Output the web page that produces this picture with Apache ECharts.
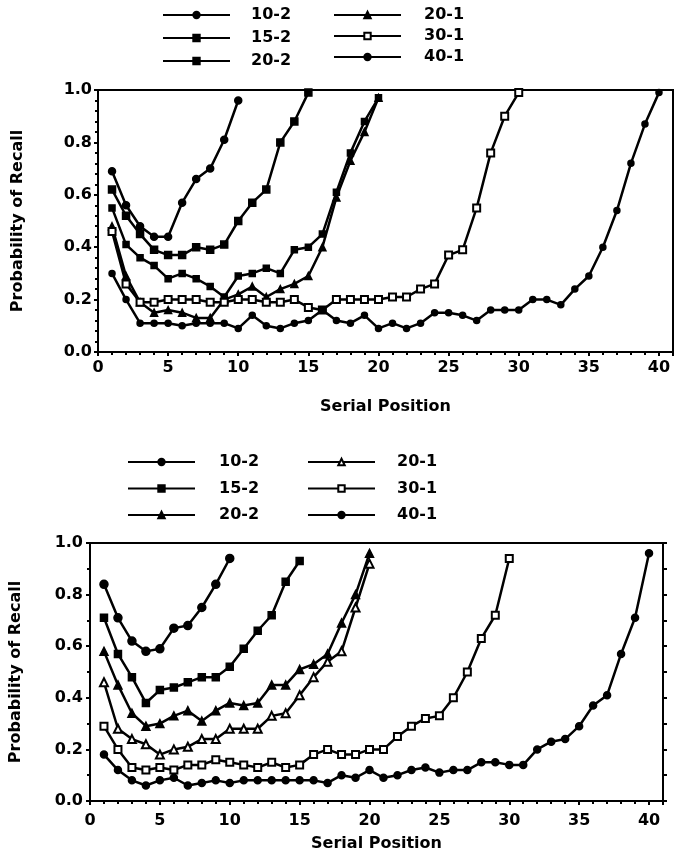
<!DOCTYPE html>
<html>
<head>
<meta charset="utf-8">
<script src="https://cdn.jsdelivr.net/npm/echarts@6/dist/echarts.min.js"></script>
<style>
    html, body { margin: 0; padding: 0; background: #fff; }
    .chart1 { position: absolute; left: 0; top: 0; width: 675px; height: 430px; }
    .chart2 { position: absolute; left: 0; top: 430px; width: 675px; height: 432px; }
</style>
</head>
<body>
<div class="chart1"></div>
<div class="chart2"></div>
<script>
// 系列名称
var names = ['10-2', '15-2', '20-2', '20-1', '30-1', '40-1'];
var yTicks = [0, 0.2, 0.4, 0.6, 0.8, 1.0];

// 上图数据
var top_10_2 = [0.69, 0.56, 0.48, 0.44, 0.44, 0.57, 0.66, 0.70, 0.81, 0.96];
var top_15_2 = [0.62, 0.52, 0.45, 0.39, 0.37, 0.37, 0.40, 0.39, 0.41, 0.50, 0.57, 0.62, 0.80, 0.88, 0.99];
var top_20_2 = [0.55, 0.41, 0.36, 0.33, 0.28, 0.30, 0.28, 0.25, 0.21, 0.29, 0.30, 0.32, 0.30, 0.39, 0.40,
    0.45, 0.61, 0.76, 0.88, 0.97];
var top_20_1 = [0.48, 0.29, 0.19, 0.15, 0.16, 0.15, 0.13, 0.13, 0.20, 0.22, 0.25, 0.21, 0.24, 0.26, 0.29,
    0.40, 0.59, 0.73, 0.84, 0.97];
var top_30_1 = [0.46, 0.26, 0.19, 0.19, 0.20, 0.20, 0.20, 0.19, 0.19, 0.20, 0.20, 0.19, 0.19, 0.20, 0.17,
    0.16, 0.20, 0.20, 0.20, 0.20, 0.21, 0.21, 0.24, 0.26, 0.37, 0.39, 0.55, 0.76, 0.90, 0.99];
var top_40_1 = [0.30, 0.20, 0.11, 0.11, 0.11, 0.10, 0.11, 0.11, 0.11, 0.09, 0.14, 0.10, 0.09, 0.11, 0.12,
    0.16, 0.12, 0.11, 0.14, 0.09, 0.11, 0.09, 0.11, 0.15, 0.15, 0.14, 0.12, 0.16, 0.16, 0.16,
    0.20, 0.20, 0.18, 0.24, 0.29, 0.40, 0.54, 0.72, 0.87, 0.99];

// 下图数据
var bot_10_2 = [0.84, 0.71, 0.62, 0.58, 0.59, 0.67, 0.68, 0.75, 0.84, 0.94];
var bot_15_2 = [0.71, 0.57, 0.48, 0.38, 0.43, 0.44, 0.46, 0.48, 0.48, 0.52, 0.59, 0.66, 0.72, 0.85, 0.93];
var bot_20_2 = [0.58, 0.45, 0.34, 0.29, 0.30, 0.33, 0.35, 0.31, 0.35, 0.38, 0.37, 0.38, 0.45, 0.45, 0.51,
    0.53, 0.57, 0.69, 0.80, 0.96];
var bot_20_1 = [0.46, 0.28, 0.24, 0.22, 0.18, 0.20, 0.21, 0.24, 0.24, 0.28, 0.28, 0.28, 0.33, 0.34, 0.41,
    0.48, 0.54, 0.58, 0.75, 0.92];
var bot_30_1 = [0.29, 0.20, 0.13, 0.12, 0.13, 0.12, 0.14, 0.14, 0.16, 0.15, 0.14, 0.13, 0.15, 0.13, 0.14,
    0.18, 0.20, 0.18, 0.18, 0.20, 0.20, 0.25, 0.29, 0.32, 0.33, 0.40, 0.50, 0.63, 0.72, 0.94];
var bot_40_1 = [0.18, 0.12, 0.08, 0.06, 0.08, 0.09, 0.06, 0.07, 0.08, 0.07, 0.08, 0.08, 0.08, 0.08, 0.08,
    0.08, 0.07, 0.10, 0.09, 0.12, 0.09, 0.10, 0.12, 0.13, 0.11, 0.12, 0.12, 0.15, 0.15, 0.14,
    0.14, 0.20, 0.23, 0.24, 0.29, 0.37, 0.41, 0.57, 0.71, 0.96];

var font = 'DejaVu Sans';

// 序号从1开始
function pairs(arr) {
    return arr.map(function (v, i) { return [i + 1, v]; });
}

function line(name, arr, symbol, size) {
    return {
        name: name,
        type: 'line',
        data: pairs(arr),
        symbol: symbol,
        symbolSize: size,
        showSymbol: true,
        lineStyle: { color: '#000', width: 2.5 },
        itemStyle: { color: '#000', borderColor: '#000', borderWidth: 1.5 },
        emphasis: { disabled: true },
        z: 3
    };
}

function legend(data, left, top, gap, pad) {
    return {
        data: data,
        orient: 'vertical',
        left: left,
        top: top,
        itemWidth: 67,
        itemHeight: 8,
        itemGap: gap,
        selectedMode: false,
        textStyle: {
            fontFamily: font, fontWeight: 'bold', fontSize: 16, color: '#000',
            lineHeight: 14, padding: [0, 0, 0, pad]
        }
    };
}

function xAxis(nameGap, labelMargin) {
    return {
        type: 'value',
        min: 0,
        max: 41,
        interval: 5,
        name: 'Serial Position',
        nameLocation: 'middle',
        nameGap: nameGap,
        nameTextStyle: { fontFamily: font, fontWeight: 'bold', fontSize: 16, color: '#000' },
        axisLine: { lineStyle: { color: '#000', width: 2 } },
        axisTick: { length: 4, lineStyle: { color: '#000', width: 2 } },
        minorTick: { show: true, splitNumber: 5, length: 3, lineStyle: { color: '#000', width: 2 } },
        axisLabel: {
            showMaxLabel: false, margin: labelMargin,
            fontFamily: font, fontWeight: 'bold', fontSize: 16, color: '#000'
        },
        splitLine: { show: false },
        minorSplitLine: { show: false }
    };
}

function yAxis(nameGap, labelMargin, minorSplit) {
    return {
        type: 'value',
        min: yTicks[0],
        max: yTicks[yTicks.length - 1],
        interval: 0.2,
        name: 'Probability of Recall',
        nameLocation: 'middle',
        nameGap: nameGap,
        nameTextStyle: { fontFamily: font, fontWeight: 'bold', fontSize: 16, color: '#000' },
        axisLine: { lineStyle: { color: '#000', width: 2 } },
        axisTick: { length: 4, lineStyle: { color: '#000', width: 2 } },
        minorTick: { show: true, splitNumber: minorSplit, length: 3, lineStyle: { color: '#000', width: 2 } },
        axisLabel: {
            margin: labelMargin,
            formatter: function (v) { return v.toFixed(1); },
            fontFamily: font, fontWeight: 'bold', fontSize: 16, color: '#000'
        },
        splitLine: { show: false },
        minorSplitLine: { show: false }
    };
}

// 上图
var myChart1 = echarts.init(document.querySelector('.chart1'));
var option1 = {
    animation: false,
    backgroundColor: '#fff',
    grid: { left: 98, top: 90, width: 575, height: 262, show: true, borderColor: '#000', borderWidth: 2 },
    legend: [
        legend(names.slice(0, 3), 157, 2, 7, 16),
        legend(names.slice(3), 328, 2, 5, 18)
    ],
    xAxis: xAxis(47, 8),
    yAxis: yAxis(72, 6, 5),
    series: [
        line('10-2', top_10_2, 'circle', 7),
        line('15-2', top_15_2, 'rect', 7),
        line('20-2', top_20_2, 'rect', 6),
        line('20-1', top_20_1, 'triangle', 7),
        line('30-1', top_30_1, 'emptyRect', 7),
        line('40-1', top_40_1, 'circle', 6)
    ]
};
myChart1.setOption(option1);

// 下图
var myChart2 = echarts.init(document.querySelector('.chart2'));
var yRight = yAxis(0, 0, 2);
yRight.position = 'right';
yRight.name = '';
yRight.interval = 0.1;
yRight.axisLabel = { show: false };
yRight.minorTick = { show: false };
var option2 = {
    animation: false,
    backgroundColor: '#fff',
    grid: { left: 89, top: 113, width: 574, height: 258, show: true, borderColor: '#000', borderWidth: 2 },
    legend: [
        legend(names.slice(0, 3), 122, 19, 10.5, 19),
        legend(names.slice(3), 302, 19, 10.5, 17)
    ],
    xAxis: xAxis(35, 12),
    yAxis: [yAxis(66, 7, 2), yRight],
    series: [
        line('10-2', bot_10_2, 'circle', 8),
        line('15-2', bot_15_2, 'rect', 7),
        line('20-2', bot_20_2, 'triangle', 8),
        line('20-1', bot_20_1, 'emptyTriangle', 8),
        line('30-1', bot_30_1, 'emptyRect', 7),
        line('40-1', bot_40_1, 'circle', 7)
    ]
};
myChart2.setOption(option2);

window.addEventListener('resize', function () {
    myChart1.resize();
    myChart2.resize();
});
</script>
</body>
</html>
